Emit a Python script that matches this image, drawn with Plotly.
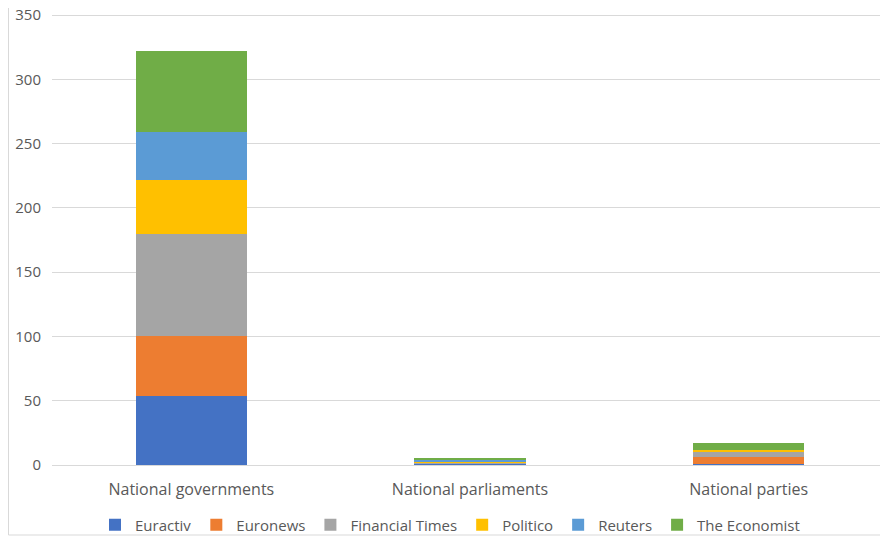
import plotly.graph_objects as go

categories = ["National governments", "National parliaments", "National parties"]
series_names = ["Euractiv", "Euronews", "Financial Times", "Politico", "Reuters", "The Economist"]
euractiv = [54, 1, 1]
euronews = [46, 0, 5]
financial_times = [80, 1, 4]
politico = [42, 1, 2]
reuters = [37, 1, 0]
the_economist = [63, 1, 5]
colors = ["#4472C4", "#ED7D31", "#A5A5A5", "#FFC000", "#5B9BD5", "#70AD47"]
y_ticks = [0, 50, 100, 150, 200, 250, 300, 350]

values = [euractiv, euronews, financial_times, politico, reuters, the_economist]

fig = go.Figure()
for name, vals, c in zip(series_names, values, colors):
    fig.add_trace(go.Bar(x=categories, y=vals, name=name, marker_color=c,
                         marker_line_width=0))

# page has an 8px body margin, so the figure is sized/offset accordingly
W, H = 880, 530
L, R, T, B = 44, 0, 5, 73
pw, ph = W - L - R, H - T - B

fig.update_layout(
    barmode="stack",
    bargap=0.6,
    width=W, height=H,
    paper_bgcolor="white", plot_bgcolor="white",
    margin=dict(l=L, r=R, t=T, b=B, autoexpand=False),
    font=dict(family="Open Sans, Liberation Sans, sans-serif", size=15, color="#595959"),
    legend=dict(orientation="h", xref="container", x=442 / W, xanchor="center",
                yref="container", y=13 / H, yanchor="middle",
                font=dict(size=15, color="#595959"), traceorder="normal",
                itemwidth=30, bgcolor="rgba(0,0,0,0)"),
    xaxis=dict(showgrid=False, showline=True, linecolor="#D9D9D9",
               tickfont=dict(size=16, color="#595959"),
               ticks="outside", ticklen=10, tickcolor="rgba(0,0,0,0)"),
    yaxis=dict(range=[0, 351.6], tickvals=y_ticks, showgrid=True, gridcolor="#D9D9D9",
               zeroline=False, tickfont=dict(size=15, color="#595959"),
               ticklabeloverflow="allow",
               ticks="outside", ticklen=7, tickcolor="rgba(0,0,0,0)"),
    shapes=[dict(type="rect", xref="paper", yref="paper",
                 x0=(0.5 - L) / pw, x1=(W + 5 - L) / pw,
                 y0=-(527 - T - ph) / ph, y1=1 + (T + 5) / ph,
                 line=dict(color="#D9D9D9", width=1), layer="below")],
)

fig.write_html("out.html")
